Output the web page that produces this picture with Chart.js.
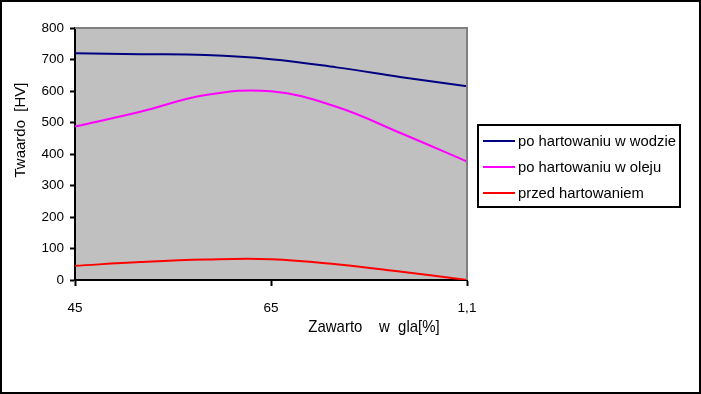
<!DOCTYPE html>
<html lang="pl">
<head>
    <meta charset="UTF-8">
    <title>Twardosc</title>
    <script src="https://cdn.jsdelivr.net/npm/chart.js"></script>
    <style>
        body { margin: 0; background: #fff; }
        canvas { display: block; }
    </style>
</head>
<body>
    <canvas id="wykres" width="701" height="394"></canvas>
    <script>
// punkty pomiarowe (7 pozycji na osi, opisane co trzecia)
const tickLabels = ['45', '65', '1,1'];
const categories = ['45', '', '', '65', '', '', '1,1'];

const wWodzie = [720, 717, 714, 701, 675, 644, 615];
const wOleju = [487, 534, 587, 599, 550, 465, 376];
const przed = [45, 57, 65, 66, 50, 26, 0];

const seriesNames = ['po hartowaniu w wodzie', 'po hartowaniu w oleju', 'przed hartowaniem'];
const yTitle = 'Twaardo  [HV]';
const xTitle = 'Zawarto    w  gla[%]';

// tlo, ramki, legenda i tytuly osi
const excelLook = {
    id: 'excelLook',
    beforeDraw(chart) {
        const c = chart.ctx, a = chart.chartArea;
        c.save();
        c.fillStyle = '#fff';
        c.fillRect(0, 0, chart.width, chart.height);
        c.fillStyle = '#c0c0c0';
        c.fillRect(a.left, a.top, a.right - a.left, a.bottom - a.top);
        c.restore();
    },
    afterDraw(chart) {
        const c = chart.ctx, a = chart.chartArea;
        c.save();
        // szara ramka gora/prawo
        c.strokeStyle = '#808080';
        c.lineWidth = 2;
        c.beginPath();
        c.moveTo(a.left, a.top);
        c.lineTo(a.right, a.top);
        c.lineTo(a.right, a.bottom);
        c.stroke();

        // legenda
        c.fillStyle = '#fff';
        c.fillRect(478, 125, 202, 82);
        c.strokeStyle = '#000';
        c.strokeRect(478, 125, 202, 82);
        c.font = '14.8px "Liberation Sans", Arial, sans-serif';
        c.textBaseline = 'middle';
        c.textAlign = 'left';
        const rows = [141, 167, 193];
        chart.data.datasets.forEach((ds, i) => {
            c.strokeStyle = ds.borderColor;
            c.lineWidth = 2;
            c.beginPath();
            c.moveTo(483, rows[i]);
            c.lineTo(515, rows[i]);
            c.stroke();
            c.fillStyle = '#000';
            c.fillText(ds.label, 518, rows[i] + 1);
        });

        // tytuly osi
        c.fillStyle = '#000';
        c.textAlign = 'center';
        c.font = '15px "Liberation Sans", Arial, sans-serif';
        c.save();
        c.translate(21, 130);
        c.rotate(-Math.PI / 2);
        c.fillText(yTitle, 0, 0);
        c.restore();
        // tytul osi X jest w oryginale zwezony
        c.save();
        c.translate(374, 327);
        c.scale(0.88, 1);
        c.font = '17px "Liberation Sans", Arial, sans-serif';
        c.fillText(xTitle, 0, 0);
        c.restore();

        // ramka calego obrazka
        c.strokeStyle = '#000';
        c.lineWidth = 2;
        c.strokeRect(1, 1, chart.width - 2, chart.height - 2);
        c.restore();
    }
};

const ctx = document.getElementById('wykres').getContext('2d');
new Chart(ctx, {
    type: 'line',
    data: {
        labels: categories,
        datasets: [
            { label: seriesNames[0], data: wWodzie, borderColor: '#000080' },
            { label: seriesNames[1], data: wOleju, borderColor: '#ff00ff' },
            { label: seriesNames[2], data: przed, borderColor: '#ff0000' }
        ]
    },
    options: {
        responsive: false,
        animation: false,
        devicePixelRatio: 1,
        layout: { padding: { left: 0, top: 28, right: 234, bottom: 0 } },
        elements: {
            line: { borderWidth: 2, tension: 0.4, fill: false },
            point: { radius: 0 }
        },
        plugins: {
            legend: { display: false },
            tooltip: { enabled: false }
        },
        scales: {
            x: {
                offset: false,
                afterFit: s => { s.height = 114; },
                grid: {
                    drawOnChartArea: false,
                    tickLength: 6,
                    tickWidth: 2,
                    tickColor: c => (c.index % 3 === 0 ? '#000' : 'rgba(0,0,0,0)')
                },
                border: { color: '#000', width: 2 },
                ticks: {
                    autoSkip: false,
                    maxRotation: 0,
                    padding: 14,
                    color: '#000',
                    font: { family: '"Liberation Sans", Arial, sans-serif', size: 13.5 },
                    callback: (v, i) => (i % 3 === 0 ? tickLabels[i / 3] : '')
                }
            },
            y: {
                min: 0,
                max: 800,
                afterFit: s => { s.width = 75; },
                grid: { drawOnChartArea: false, tickLength: 5, tickWidth: 2, tickColor: '#000' },
                border: { color: '#000', width: 2 },
                ticks: {
                    stepSize: 100,
                    padding: 6,
                    color: '#000',
                    font: { family: '"Liberation Sans", Arial, sans-serif', size: 13.5 }
                }
            }
        }
    },
    plugins: [excelLook]
});
    </script>
</body>
</html>
